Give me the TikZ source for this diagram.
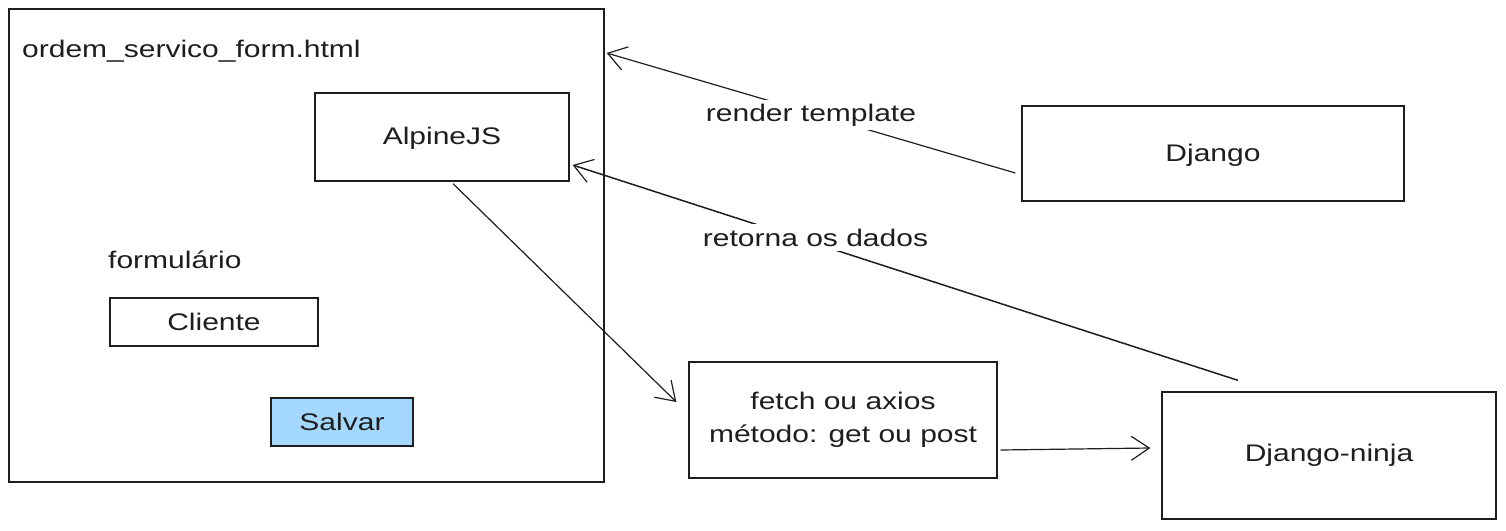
\documentclass[tikz,border=0pt]{standalone}
\usepackage{fontspec}
\setmainfont{Liberation Sans}[FakeStretch=1.25]
\usetikzlibrary{arrows.meta}
\definecolor{ink}{HTML}{1E1E1E}
\definecolor{salvarfill}{HTML}{A5D8FF}
\begin{document}
\begin{tikzpicture}[x=1pt,y=-1pt,
  box/.style={draw=ink, line width=1.3pt, inner sep=0pt},
  lbl/.style={text=ink, font=\fontsize{24}{33}\selectfont, inner sep=0pt},
  conn/.style={draw=ink, line width=1.2pt, -{Straight Barb[length=18pt,width=24pt,line width=1.2pt]}},
  edgelbl/.style={lbl, fill=white, inner sep=4pt}]
\useasboundingbox (0,0) rectangle (1506,530);
\node[box, minimum width=595pt, minimum height=473pt] (frame) at (306.5,245.5) {};
\node[lbl, anchor=base west] (title) at (22,57) {ordem\_servico\_form.html};
\node[box, minimum width=254pt, minimum height=88pt] (alpine) at (442,137) {};
\node[lbl] (alpinetxt) at (442,138) {AlpineJS};
\node[lbl, anchor=base west] (formlbl) at (108,268) {formulário};
\node[box, minimum width=208pt, minimum height=48pt] (cliente) at (214,322) {};
\node[lbl] (clientetxt) at (214,322) {Cliente};
\node[box, fill=salvarfill, minimum width=142pt, minimum height=48pt] (salvar) at (342,422) {};
\node[lbl] (salvartxt) at (342,422) {Salvar};
\node[box, minimum width=382pt, minimum height=95pt] (django) at (1213,153.5) {};
\node[lbl] (djangotxt) at (1213,155) {Django};
\node[box, minimum width=334pt, minimum height=127pt] (ninja) at (1329,455.5) {};
\node[lbl] (ninjatxt) at (1329,455) {Django-ninja};
\node[box, minimum width=308pt, minimum height=116pt] (fetch) at (843,420) {};
\node[lbl, align=center] (fetchtxt) at (843,420) {fetch ou axios\\método: get ou post};
\draw[conn] ([shift={(-6,19.5)}]django.west) -- node[edgelbl, yshift=-2pt] (rendertxt) {render template} ([shift={(2,-192.5)}]frame.east);
\draw[conn, line width=1.5pt] ([shift={(-91,-11)}]ninja.north) -- node[edgelbl, pos=0.635, yshift=6pt, inner sep=5pt] (retornatxt) {retorna os dados} ([shift={(3,28)}]alpine.east);
\draw[conn] ([shift={(11,2)}]alpine.south) -- ([shift={(-12,-18)}]fetch.west);
\draw[conn] ([shift={(3,30)}]fetch.east) -- ([shift={(-11,-7.5)}]ninja.west);
\end{tikzpicture}
\end{document}
